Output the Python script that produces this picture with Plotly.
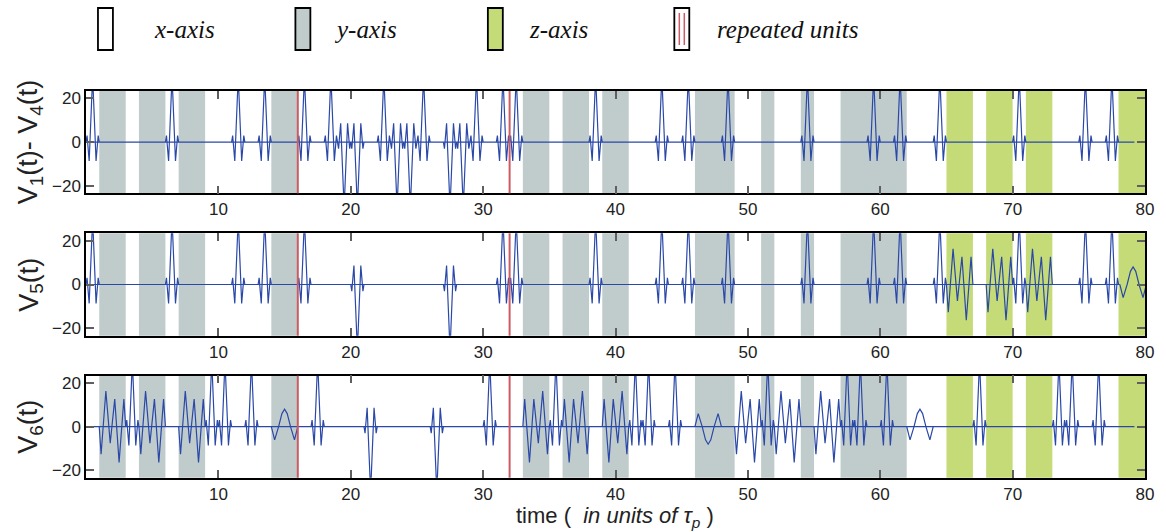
import plotly.graph_objects as go

# ---------------- data ----------------
x_tick_vals = [10, 20, 30, 40, 50, 60, 70, 80]
y_tick_vals = [-20, 0, 20]

gray_spans = [(1, 3), (4, 6), (7, 9), (14, 16), (33, 35), (36, 38), (39, 41),
              (46, 49), (51, 52), (54, 55), (57, 62)]
green_spans = [(65, 67), (68, 70), (71, 73), (78, 80)]
repeat_marks = [16, 32]

spike_dt = [-0.5, -0.42, -0.26, 0.0, 0.26, 0.42, 0.5]
spike_v = [0, 3, -8.6, 30, -8.6, 3, 0]
burst_dt = [0, 0.14, 0.5, 0.83, 1.17, 1.5, 1.86, 2.0]
burst_v = [0, -12.6, 16.3, -7.5, 12.6, -16.3, 12.6, 0]
burst_rev_v = [0, 12.6, -16.3, 12.6, -7.5, 16.3, -12.6, 0]
hat_dt = [-1.0, -0.75, -0.45, -0.2, 0.0, 0.2, 0.45, 0.75, 1.0]
hat_v = [0, -6, 0, 6, 8, 6, 0, -6, 0]

# event times per panel
v14_spike_up = [0.5, 6.5, 11.5, 13.5, 16.5, 18.5, 22.5, 25.5, 29.5, 31.5, 32.5,
                38.5, 43.5, 45.5, 48.5, 54.5, 59.5, 61.5, 64.5, 70.5, 75.5, 77.5]
v14_spike_down = [19.5, 20.5, 23.5, 24.5, 27.5, 28.5]

v5_spike_up = [0.5, 6.5, 11.5, 13.5, 16.5, 31.5, 32.5, 38.5, 43.5, 45.5, 48.5,
               54.5, 59.5, 61.5, 64.5, 70.5, 75.5, 77.5]
v5_spike_down = [20.5, 27.5]
v5_burst = [65, 68, 71]
v5_hat_up = [79.1]

v6_spike_up = [3.5, 9.5, 10.5, 12.5, 17.5, 30.5, 35.5, 41.5, 42.5, 44.5, 51.5,
               57.5, 58.5, 60.5, 67.5, 73.5, 74.5, 76.5]
v6_spike_down = [21.5, 26.5]
v6_burst = [1, 4, 7, 49, 52, 55]
v6_burst_rev = [33, 36, 39]
v6_hat_up = [15, 63]
v6_hat_down = [47]

baseline_end = [79.2, 78.1, 79.2]

# ---------------- styling ----------------
BLUE = "rgb(42,72,168)"
GRAY = "rgb(192,204,203)"
GREEN = "rgb(196,219,120)"
RED = "rgb(206,90,100)"
FONT = "Liberation Sans, Arial, sans-serif"
SERIF = "Liberation Serif, Times New Roman, serif"

W, H = 1166, 532
ML, MR, MT, MB = 86, 18, 91, 54
PW, PH = W - ML - MR, H - MT - MB


def px_x(p):
    return (p - ML) / PW


def px_y(p):
    return (H - MB - p) / PH


def add_shape_pts(xs, ys, times, dts, vals, sign=1):
    for t in times:
        xs.append(None)
        ys.append(None)
        for d, v in zip(dts, vals):
            xs.append(t + d)
            ys.append(sign * v)


def build(end, up=(), down=(), burst=(), burst_rev=(), hat_up=(), hat_down=()):
    xs, ys = [0, end], [0, 0]
    add_shape_pts(xs, ys, up, spike_dt, spike_v, 1)
    add_shape_pts(xs, ys, down, spike_dt, spike_v, -1)
    add_shape_pts(xs, ys, burst, burst_dt, burst_v, 1)
    add_shape_pts(xs, ys, burst_rev, burst_dt, burst_rev_v, 1)
    add_shape_pts(xs, ys, hat_up, hat_dt, hat_v, 1)
    add_shape_pts(xs, ys, hat_down, hat_dt, hat_v, -1)
    return xs, ys


panels = [
    build(baseline_end[0], v14_spike_up, v14_spike_down),
    build(baseline_end[1], v5_spike_up, v5_spike_down, burst=v5_burst, hat_up=v5_hat_up),
    build(baseline_end[2], v6_spike_up, v6_spike_down, burst=v6_burst,
          burst_rev=v6_burst_rev, hat_up=v6_hat_up, hat_down=v6_hat_down),
]

# panel pixel extents (top, bottom)
panel_px = [(91, 193.3), (233.3, 335.7), (375.7, 477.7)]

fig = go.Figure()
for i, (xs, ys) in enumerate(panels):
    sfx = "" if i == 0 else str(i + 1)
    fig.add_trace(go.Scatter(x=xs, y=ys, mode="lines",
                             line=dict(color=BLUE, width=1.2),
                             xaxis="x" + sfx, yaxis="y" + sfx,
                             showlegend=False, hoverinfo="skip"))

shapes = []
for i in range(3):
    sfx = "" if i == 0 else str(i + 1)
    for a, b in gray_spans:
        shapes.append(dict(type="rect", xref="x" + sfx, yref="y" + sfx + " domain",
                           x0=a, x1=b, y0=0, y1=1, fillcolor=GRAY,
                           line=dict(width=0), layer="below"))
    for a, b in green_spans:
        shapes.append(dict(type="rect", xref="x" + sfx, yref="y" + sfx + " domain",
                           x0=a, x1=b, y0=0, y1=1, fillcolor=GREEN,
                           line=dict(width=0), layer="below"))
    for m in repeat_marks:
        shapes.append(dict(type="line", xref="x" + sfx, yref="y" + sfx + " domain",
                           x0=m, x1=m, y0=0, y1=1,
                           line=dict(color=RED, width=2), layer="above"))

axis_common = dict(showline=True, linecolor="black", linewidth=1.5, mirror="allticks",
                   ticks="inside", ticklen=8, tickwidth=1.5, tickcolor="rgb(95,95,95)",
                   showgrid=False, zeroline=False,
                   tickfont=dict(family=FONT, size=17, color="#222"))

layout = dict(width=W, height=H, margin=dict(l=ML, r=MR, t=MT, b=MB),
              paper_bgcolor="white", plot_bgcolor="white", shapes=shapes)
for i, (top, bot) in enumerate(panel_px):
    sfx = "" if i == 0 else str(i + 1)
    layout["xaxis" + sfx] = dict(axis_common, range=[0, 80], tickvals=x_tick_vals,
                                 anchor="y" + sfx, domain=[0, 1])
    layout["yaxis" + sfx] = dict(axis_common, range=[-23.3, 23.3], tickvals=y_tick_vals,
                                 anchor="x" + sfx,
                                 domain=[max(0, px_y(bot)), min(1, px_y(top))])

annotations = []
ylabels = ["V<sub>1</sub>(t)- V<sub>4</sub>(t)", "V<sub>5</sub>(t)", "V<sub>6</sub>(t)"]
for (top, bot), lab in zip(panel_px, ylabels):
    annotations.append(dict(text=lab, xref="paper", yref="paper",
                            x=px_x(30), y=px_y((top + bot) / 2), textangle=-90,
                            showarrow=False, xanchor="center", yanchor="middle",
                            font=dict(family=FONT, size=27, color="#222")))
annotations.append(dict(text="time (  <i>in units of τ<sub>p</sub></i> )",
                        xref="paper", yref="paper", x=px_x(616), y=px_y(517),
                        showarrow=False, xanchor="center", yanchor="middle",
                        borderpad=0,
                        font=dict(family=FONT, size=22, color="#222")))

# legend drawn at top
legend_items = [("x-axis", "white", 98, 152), ("y-axis", GRAY, 296, 333),
                ("z-axis", GREEN, 489, 528), ("repeated units", "white", 676, 717)]
for label, col, bx, tx in legend_items:
    shapes.append(dict(type="rect", xref="paper", yref="paper",
                       x0=px_x(bx), x1=px_x(bx + 15), y0=px_y(50), y1=px_y(8),
                       fillcolor=col, line=dict(color="black", width=1.8)))
    annotations.append(dict(text="<i>" + label + "</i>", xref="paper", yref="paper",
                            x=px_x(tx), y=px_y(29), showarrow=False,
                            xanchor="left", yanchor="middle",
                            font=dict(family=SERIF, size=25, color="#111")))
for off in (5, 10):
    shapes.append(dict(type="line", xref="paper", yref="paper",
                       x0=px_x(676 + off), x1=px_x(676 + off), y0=px_y(45), y1=px_y(13),
                       line=dict(color=RED, width=1.5)))

layout["annotations"] = annotations
fig.update_layout(**layout)
fig.write_html("out.html")
